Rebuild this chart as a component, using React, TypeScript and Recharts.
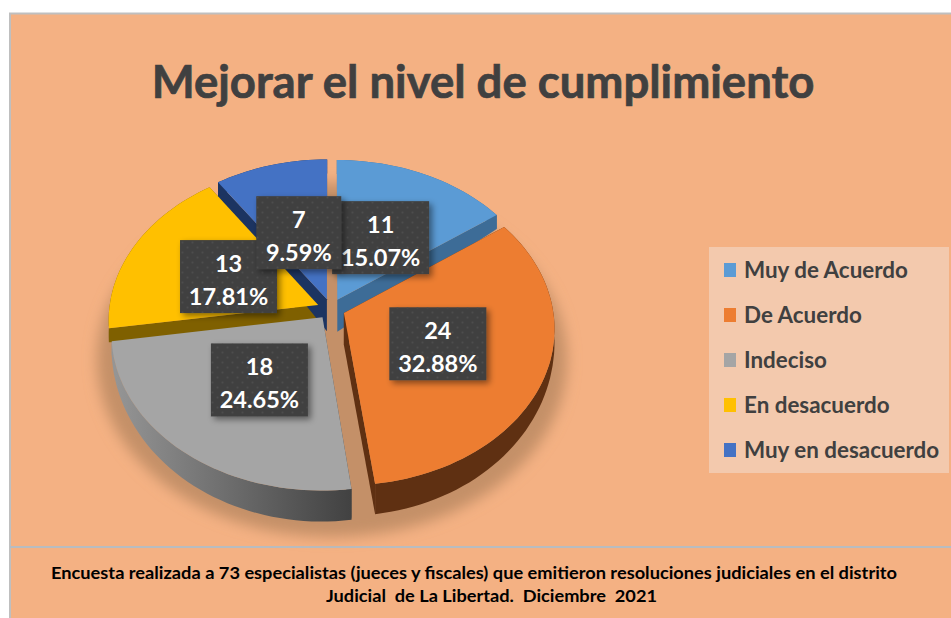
import React from 'react';
import { PieChart, Pie, Cell, Legend } from 'recharts';

const categories = ['Muy de Acuerdo', 'De Acuerdo', 'Indeciso', 'En desacuerdo', 'Muy en desacuerdo'];
const counts = [11, 24, 18, 13, 7];
const percentLabels = ['15.07%', '32.88%', '24.65%', '17.81%', '9.59%'];
const topColors = ['#5b9bd5', '#ed7d31', '#a5a5a5', '#ffc000', '#4472c4'];
const wallColors = ['#3d6c97', '#5f3012', 'url(#grayWall)', '#7f6000', '#1c3461'];
const footerLines = [
  'Encuesta realizada a 73 especialistas (jueces y fiscales) que emitieron resoluciones judiciales en el distrito',
  'Judicial  de La Libertad.  Diciembre  2021',
];

const rows = categories.map((name, i) => ({ name, value: counts[i], percentLabel: percentLabels[i] }));

// fake 3D: tilt + perspective of the pie disc
const TILT = 0.741;
const PERSPECTIVE = 0.096;
const EXPLODE = 14;
const LABEL_RADIUS = 100;
const rad = (d: number) => (d * Math.PI) / 180;

function discPoint(midAngle: number, clockAngle: number, rho: number) {
  const mid = rad(90 - midAngle);
  const a = rad(clockAngle);
  return {
    X: EXPLODE * Math.sin(mid) + rho * Math.sin(a),
    Y: -EXPLODE * Math.cos(mid) - rho * Math.cos(a),
  };
}

function project(cx: number, cy: number, R: number, X: number, Y: number) {
  const w = 1 - (PERSPECTIVE * Y) / R;
  return [cx + X / w, cy + (TILT * Y) / w];
}

function rimDepth(v: number) {
  return v < 0.2 ? 14 : 14 + (16 * (v - 0.2)) / 0.8;
}

function toPath(points: number[][]) {
  return 'M' + points.map((p) => `${p[0].toFixed(1)},${p[1].toFixed(1)}`).join('L') + 'Z';
}

function rimPoints(props: any) {
  const { cx, cy, outerRadius: R, midAngle, startAngle, endAngle } = props;
  const a0 = 90 - startAngle;
  const a1 = 90 - endAngle;
  const steps = Math.ceil((a1 - a0) / 2);
  const top: number[][] = [];
  const bottom: number[][] = [];
  for (let i = 0; i <= steps; i++) {
    const a = a0 + ((a1 - a0) * i) / steps;
    const { X, Y } = discPoint(midAngle, a, R);
    const p = project(cx, cy, R, X, Y);
    top.push(p);
    bottom.push([p[0], p[1] + rimDepth(Y / R)]);
  }
  const c = discPoint(midAngle, 0, 0);
  const apex = project(cx, cy, R, c.X, c.Y);
  return { top, bottom, apex, apexBottom: [apex[0], apex[1] + 32] };
}

function TopShape(props: any) {
  const { top, apex } = rimPoints(props);
  return <path d={toPath([apex, ...top])} fill={props.fill} />;
}

function WallShape(props: any) {
  const { top, bottom, apex, apexBottom } = rimPoints(props);
  const last = top.length - 1;
  const outer = [...top, ...bottom.slice().reverse()];
  const faceStart = [apex, top[0], bottom[0], apexBottom];
  const faceEnd = [apex, top[last], bottom[last], apexBottom];
  return (
    <g fill={props.fill}>
      <path d={toPath(faceStart)} />
      <path d={toPath(faceEnd)} />
      <path d={toPath(outer)} />
    </g>
  );
}

function DataLabel(props: any) {
  const { cx, cy, outerRadius: R, midAngle, payload } = props;
  const { X, Y } = discPoint(midAngle, 90 - midAngle, LABEL_RADIUS);
  const [x, y] = project(cx, cy, R, X, Y);
  const w = payload.percentLabel.length > 5 ? 97 : 85;
  return (
    <g>
      <rect x={x - w / 2} y={y - 36} width={w} height={73} fill="#404040" filter="url(#boxShadow)" />
      <rect x={x - w / 2} y={y - 36} width={w} height={73} fill="url(#boxDots)" />
      <text x={x} y={y - 13} textAnchor="middle" dominantBaseline="central" fill="#fff" fontSize={23.5} fontWeight={700} fontFamily="Lato">
        {payload.value}
      </text>
      <text x={x} y={y + 20} textAnchor="middle" dominantBaseline="central" fill="#fff" fontSize={23.5} fontWeight={700} fontFamily="Lato">
        {payload.percentLabel}
      </text>
    </g>
  );
}

function LegendBox({ payload }: any) {
  // the wall pie also reports entries, keep only the top faces
  const entries = categories.map((name, i) => ({ value: name, color: topColors[i] }));
  const shown = entries.filter((e) => (payload || []).some((p: any) => p.value === e.value));
  return (
    <div style={{ background: '#f3c9ad', width: 240, height: 226, boxSizing: 'border-box' }}>
      {shown.map((entry) => (
        <div key={entry.value} style={{ height: 45, display: 'flex', alignItems: 'center', paddingLeft: 15 }}>
          <span style={{ width: 12, height: 14, background: entry.color, marginRight: 8, flex: 'none' }} />
          <span style={{ font: '700 22.4px Lato', color: '#404040', whiteSpace: 'nowrap' }}>{entry.value}</span>
        </div>
      ))}
    </div>
  );
}

export default function App() {
  return (
    <div style={{ position: 'absolute', left: 0, top: 0, width: 951, height: 618, overflow: 'hidden' }}>
      <PieChart width={951} height={618} margin={{ top: 0, right: 0, bottom: 0, left: 0 }}>
        <defs>
          <linearGradient id="grayWall" gradientUnits="userSpaceOnUse" x1="115" y1="0" x2="350" y2="0">
            <stop offset="0" stopColor="#959595" />
            <stop offset="1" stopColor="#424242" />
          </linearGradient>
          <pattern id="boxDots" width="10" height="10" patternUnits="userSpaceOnUse">
            <circle cx="2.5" cy="2.5" r="1" fill="#4d4d4d" />
            <circle cx="7.5" cy="7.5" r="1" fill="#4d4d4d" />
          </pattern>
          <filter id="boxShadow" x="-20%" y="-20%" width="150%" height="150%">
            <feDropShadow dx="3" dy="3" stdDeviation="3" floodColor="#000" floodOpacity="0.45" />
          </filter>
          <filter id="pieShadow" x="-20%" y="-20%" width="140%" height="140%">
            <feGaussianBlur stdDeviation="7" />
          </filter>
        </defs>
        <rect x={10} y={13.5} width={1000} height={700} fill="#f4b183" stroke="#bfbfbf" strokeWidth={2} />
        <line x1={10} x2={951} y1={547} y2={547} stroke="#b8bcc0" strokeWidth={2} />
        <text x={483} y={98} textAnchor="middle" fontSize={45.5} fontWeight={700} fontFamily="Lato" fill="#404040" stroke="#404040" strokeWidth={0.7}>
          Mejorar el nivel de cumplimiento
        </text>
        <ellipse cx={332} cy={360} rx={235} ry={177} fill="#c49068" filter="url(#pieShadow)" />
        <Pie
          data={rows}
          dataKey="value"
          nameKey="name"
          cx={331}
          cy={309}
          innerRadius={0}
          outerRadius={209}
          startAngle={90}
          endAngle={-270}
          stroke="none"
          legendType="none"
          shape={WallShape}
          isAnimationActive={false}
        >
          {rows.map((r, i) => (
            <Cell key={r.name} fill={wallColors[i]} />
          ))}
        </Pie>
        <Pie
          data={rows}
          dataKey="value"
          nameKey="name"
          cx={331}
          cy={309}
          innerRadius={0}
          outerRadius={209}
          startAngle={90}
          endAngle={-270}
          stroke="none"
          shape={TopShape}
          label={DataLabel}
          labelLine={false}
          isAnimationActive={false}
        >
          {rows.map((r, i) => (
            <Cell key={r.name} fill={topColors[i]} />
          ))}
        </Pie>
        <Legend
          content={<LegendBox />}
          wrapperStyle={{ left: 709, top: 247, width: 240, height: 226 }}
        />
        <text x={51} y={579} fontSize={17} fontWeight={700} fontFamily="Lato" fill="#000" textLength={846} lengthAdjust="spacingAndGlyphs" style={{ whiteSpace: 'pre' }}>
          {footerLines[0]}
        </text>
        <text x={326} y={602} fontSize={17} fontWeight={700} fontFamily="Lato" fill="#000" textLength={331} lengthAdjust="spacingAndGlyphs" style={{ whiteSpace: 'pre' }}>
          {footerLines[1]}
        </text>
      </PieChart>
    </div>
  );
}
